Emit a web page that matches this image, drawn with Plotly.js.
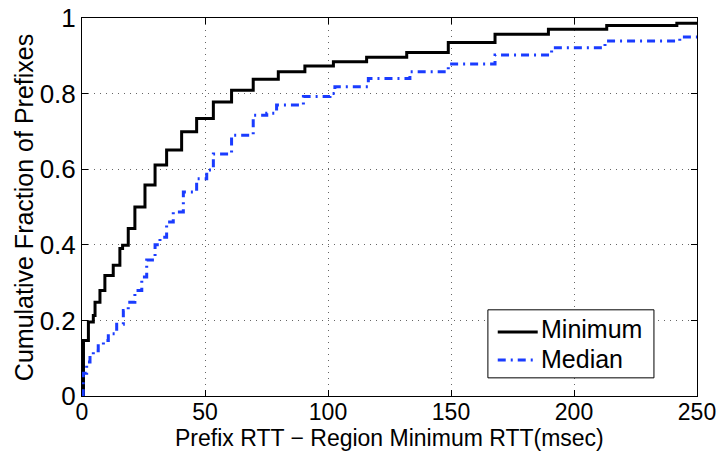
<!DOCTYPE html>
<html>
<head>
<meta charset="utf-8">
<script src="https://cdn.plot.ly/plotly-3.0.1.min.js"></script>
<style>
  html, body { margin: 0; padding: 0; background: #fff; }
  #chart { width: 722px; height: 451px; }
</style>
</head>
<body>
<div id="chart"></div>
<script>
// Empirical CDF of (prefix RTT - region minimum RTT), in msec.
// Each point marks where the step curve jumps to the given fraction.
const minimumX = [0, 0.6, 2.6, 4.6, 5.3, 7.3, 9.3, 12.7, 15.4, 16.5, 18.8, 21.5, 25.6, 29.7, 34.4,
  40.5, 46.6, 53.4, 60.8, 69.6, 79.8, 90.6, 102.2, 115.7, 132, 148.9, 167.9, 189.6, 213.3, 241.8, 250];
const minimumY = [0, 0.147, 0.196, 0.213, 0.248, 0.279, 0.319, 0.346, 0.390, 0.399, 0.443, 0.500, 0.558, 0.611, 0.651,
  0.699, 0.734, 0.778, 0.809, 0.838, 0.858, 0.873, 0.884, 0.896, 0.909, 0.935, 0.957, 0.970, 0.980, 0.986, 0.986];

const medianX = [0, 0.5, 1.9, 3.25, 4.6, 6.6, 8.7, 10.7, 14.1, 16.8, 18.8, 21.5, 24.3, 26.3, 29.7, 31.7, 34.4,
  37.1, 41.2, 46.6, 50.7, 53.4, 60.8, 69.6, 75.1, 79.1, 90, 100.8, 102.8, 116.4, 133.3, 148.9, 167.9,
  190.9, 212.6, 243, 250];
const medianY = [0, 0.06, 0.09, 0.107, 0.12, 0.133, 0.147, 0.165, 0.19, 0.226, 0.248, 0.279, 0.315, 0.36, 0.40, 0.42, 0.46,
  0.487, 0.54, 0.575, 0.598, 0.64, 0.69, 0.743, 0.748, 0.77, 0.792, 0.80, 0.818, 0.84, 0.858, 0.878, 0.902,
  0.921, 0.939, 0.950, 0.950];

const seriesNames = ['Minimum', 'Median'];
const xTicks = [0, 50, 100, 150, 200, 250];
const yTicks = [0, 0.2, 0.4, 0.6, 0.8, 1];
const yTickText = ['0', '0.2', '0.4', '0.6', '0.8', '1'];

const FONT = '"Liberation Sans", Arial, Helvetica, sans-serif';
const BLACK = '#000000';
const BLUE = '#1a3cff';
const DASHDOT = '8px,5px,2px,5px';

const seriesStyles = [
  { color: BLACK, width: 3, dash: 'solid' },
  { color: BLUE, width: 3, dash: DASHDOT }
];

const traces = [
  {
    x: minimumX, y: minimumY, name: seriesNames[0], type: 'scatter', mode: 'lines',
    line: Object.assign({ shape: 'hv' }, seriesStyles[0])
  },
  {
    x: medianX, y: medianY, name: seriesNames[1], type: 'scatter', mode: 'lines',
    line: Object.assign({ shape: 'hv' }, seriesStyles[1])
  }
];

const axisCommon = {
  showline: true, linecolor: '#000', linewidth: 1, mirror: 'ticks',
  ticks: 'inside', ticklen: 6, tickwidth: 1, tickcolor: '#000',
  showgrid: true, gridcolor: '#666', gridwidth: 1, griddash: '1px,5px',
  zeroline: false
};

// Boxed key in the lower right of the plot area (paper coordinates).
const keyBox = { x0: 0.660, x1: 0.930, y0: 0.048, y1: 0.228 };
const keyLineRows = [0.169, 0.095];
const keyTextRows = [0.176, 0.098];
const keyLine = { x0: 0.676, x1: 0.741 };
const keyTextX = 0.746;

const keyShapes = [
  {
    type: 'rect', xref: 'paper', yref: 'paper',
    x0: keyBox.x0, x1: keyBox.x1, y0: keyBox.y0, y1: keyBox.y1,
    line: { color: '#000', width: 1 }, fillcolor: '#fff', layer: 'above'
  }
].concat(seriesStyles.map((s, i) => ({
  type: 'line', xref: 'paper', yref: 'paper',
  x0: keyLine.x0, x1: keyLine.x1, y0: keyLineRows[i], y1: keyLineRows[i],
  line: { color: s.color, width: s.width, dash: s.dash }, layer: 'above'
})));

const keyLabels = seriesNames.map((name, i) => ({
  text: name, xref: 'paper', yref: 'paper', x: keyTextX, y: keyTextRows[i],
  xanchor: 'left', yanchor: 'middle', showarrow: false, borderpad: 0, borderwidth: 0,
  font: { family: FONT, size: 25, color: '#000' }
}));

const layout = {
  width: 722, height: 451,
  margin: { l: 82, r: 25, t: 18, b: 55 },
  paper_bgcolor: '#fff', plot_bgcolor: '#fff',
  font: { family: FONT, color: '#000' },
  showlegend: false,
  xaxis: Object.assign({}, axisCommon, {
    range: [0, 250], tickvals: xTicks, ticktext: xTicks.map(String), ticklabelstandoff: -5,
    tickfont: { family: FONT, size: 23, color: '#000' }
  }),
  yaxis: Object.assign({}, axisCommon, {
    range: [0, 1], tickvals: yTicks, ticktext: yTickText, ticklabelstandoff: 0,
    tickfont: { family: FONT, size: 26, color: '#000' }
  }),
  shapes: keyShapes,
  annotations: [
    {
      text: 'Prefix RTT \u2212 Region Minimum RTT(msec)', xref: 'paper', yref: 'paper',
      x: 0.5, y: -0.1455, xanchor: 'center', yanchor: 'bottom', showarrow: false,
      borderpad: 0, borderwidth: 0,
      font: { family: FONT, size: 23, color: '#000' }
    },
    {
      text: 'Cumulative Fraction of Prefixes', xref: 'paper', yref: 'paper',
      x: -0.0943, y: 0.497, xanchor: 'center', yanchor: 'middle', showarrow: false, textangle: -90,
      font: { family: FONT, size: 25, color: '#000' }
    }
  ].concat(keyLabels)
};

Plotly.newPlot('chart', traces, layout, { displayModeBar: false, staticPlot: true });
</script>
</body>
</html>
